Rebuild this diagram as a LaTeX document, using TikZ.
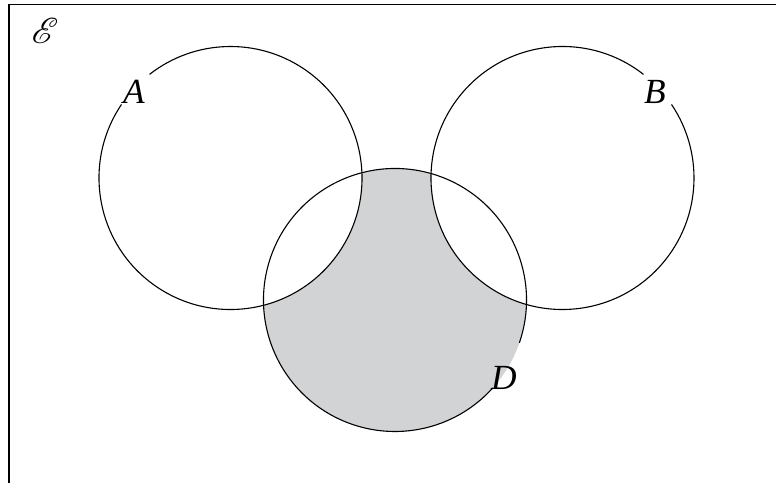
\documentclass[tikz,border=0pt]{standalone}
\usepackage{fontspec}
\setmainfont{Liberation Serif}
\usepackage{mathrsfs}
\definecolor{venngrey}{RGB}{209,211,212}
\begin{document}
\begin{tikzpicture}[x=1pt,y=1pt,
  circ/.style={line width=1.1pt,black},
  lab/.style={inner sep=0pt,scale=1.42,transform shape,font=\Huge\itshape}]
\useasboundingbox (0,0) rectangle (776,483);
\coordinate (cA) at (230.5,305);
\coordinate (cB) at (562.5,305);
\coordinate (cD) at (395,183);
% grey region: D minus A minus B
\fill[venngrey] (cD) circle[radius=131.5];
\fill[white] (cA) circle[radius=131.5];
\fill[white] (cB) circle[radius=131.5];
% frame
\draw[line width=1.6pt] (9,0) -- (9,478.5) -- (776,478.5);
% circles with gaps for labels
\draw[circ] (cA) ++(146:131.5) arc[start angle=146,end angle=488,radius=131.5];
\draw[circ] (cB) ++(52:131.5) arc[start angle=52,end angle=394,radius=131.5];
\draw[circ] (cD) ++(-19:131.5) arc[start angle=-19,end angle=318,radius=131.5];
% labels
\node[lab] (lA) at (134,391) {A};
\node[lab] (lB) at (655,391) {B};
\node[lab] (lD) at (504,105) {D};
\node[inner sep=0pt,scale=1.45,transform shape] (lE) at (45,452) {\Huge$\mathscr{E}$};
\end{tikzpicture}
\end{document}
